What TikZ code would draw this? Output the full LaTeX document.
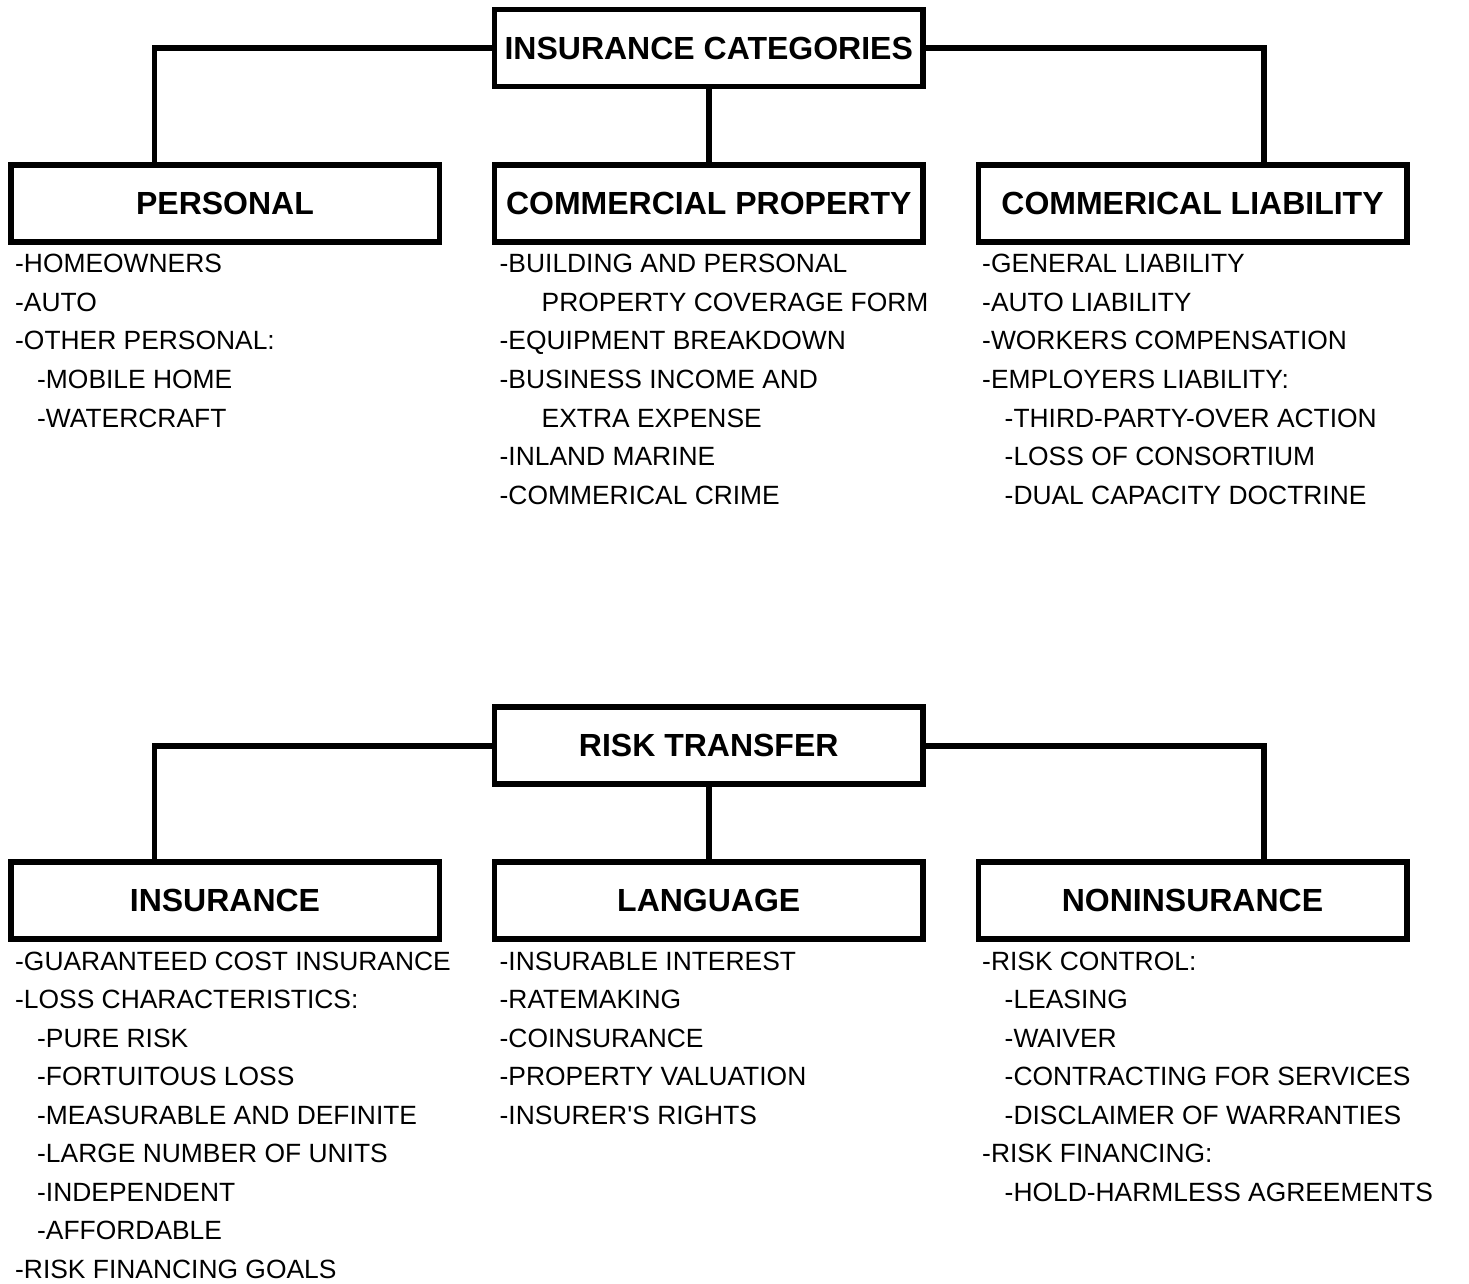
\documentclass[tikz,border=0pt]{standalone}
\usepackage{fontspec}
\newfontfamily\lsans{Liberation Sans}
\tikzset{
  box/.style={draw, line width=5.5pt, minimum width=428.5pt, minimum height=77pt,
    inner sep=0pt, font=\lsans\fontsize{32}{38}\selectfont\bfseries},
  link/.style={line width=5.5pt},
  entry/.style={anchor=base west, inner sep=0pt, font=\lsans\fontsize{26.4}{32}\selectfont}
}
\begin{document}
\begin{tikzpicture}[x=1pt,y=-1pt]
\useasboundingbox (0,0) rectangle (1469,1283);

% ---------- insurance categories ----------
\node[box] (cat)   at (708.75,48.1)  {INSURANCE CATEGORIES};
\node[box] (pers)  at (225,203.25)   {PERSONAL};
\node[box] (cprop) at (708.75,203.25){COMMERCIAL PROPERTY};
\node[box] (cliab) at (1192.5,203.25){COMMERICAL LIABILITY};

\draw[link] (cat.west) -| ([xshift=-70.5pt]pers.north);
\draw[link] (cat.east) -| ([xshift=71.5pt]cliab.north);
\draw[link] (cat.south) -- (cprop.north);

% personal lines
\node[entry] (p1) at (15,272.3)  {-HOMEOWNERS};
\node[entry] (p2) at (15,311.0)  {-AUTO};
\node[entry] (p3) at (15,349.7)  {-OTHER PERSONAL:};
\node[entry] (p4) at (37,388.4)  {-MOBILE HOME};
\node[entry] (p5) at (37,427.1)  {-WATERCRAFT};

% commercial property forms
\node[entry] (c1) at (499.5,272.3) {-BUILDING AND PERSONAL};
\node[entry] (c2) at (541.5,311.0) {PROPERTY COVERAGE FORM};
\node[entry] (c3) at (499.5,349.7) {-EQUIPMENT BREAKDOWN};
\node[entry] (c4) at (499.5,388.4) {-BUSINESS INCOME AND};
\node[entry] (c5) at (541.5,427.1) {EXTRA EXPENSE};
\node[entry] (c6) at (499.5,465.8) {-INLAND MARINE};
\node[entry] (c7) at (499.5,504.5) {-COMMERICAL CRIME};

% commercial liability forms
\node[entry] (l1) at (982,272.3)    {-GENERAL LIABILITY};
\node[entry] (l2) at (982,311.0)    {-AUTO LIABILITY};
\node[entry] (l3) at (982,349.7)    {-WORKERS COMPENSATION};
\node[entry] (l4) at (982,388.4)    {-EMPLOYERS LIABILITY:};
\node[entry] (l5) at (1004.5,427.1) {-THIRD-PARTY-OVER ACTION};
\node[entry] (l6) at (1004.5,465.8) {-LOSS OF CONSORTIUM};
\node[entry] (l7) at (1004.5,504.5) {-DUAL CAPACITY DOCTRINE};

% ---------- risk transfer ----------
\node[box] (rt)     at (708.75,745.35) {RISK TRANSFER};
\node[box] (ins)    at (225,900.5)     {INSURANCE};
\node[box] (lang)   at (708.75,900.5)  {LANGUAGE};
\node[box] (nonins) at (1192.5,900.5)  {NONINSURANCE};

\draw[link] ([yshift=-0.7pt]rt.west) -| ([xshift=-70.5pt]ins.north);
\draw[link] ([yshift=-0.7pt]rt.east) -| ([xshift=71.5pt]nonins.north);
\draw[link] (rt.south) -- (lang.north);

% insurance
\node[entry] (i1) at (15,970)     {-GUARANTEED COST INSURANCE};
\node[entry] (i2) at (15,1008.55) {-LOSS CHARACTERISTICS:};
\node[entry] (i3) at (37,1047.1)  {-PURE RISK};
\node[entry] (i4) at (37,1085.65) {-FORTUITOUS LOSS};
\node[entry] (i5) at (37,1124.2)  {-MEASURABLE AND DEFINITE};
\node[entry] (i6) at (37,1162.75) {-LARGE NUMBER OF UNITS};
\node[entry] (i7) at (37,1201.3)  {-INDEPENDENT};
\node[entry] (i8) at (37,1239.85) {-AFFORDABLE};
\node[entry] (i9) at (15,1278.4)  {-RISK FINANCING GOALS};

% language
\node[entry] (g1) at (499.5,970)     {-INSURABLE INTEREST};
\node[entry] (g2) at (499.5,1008.55) {-RATEMAKING};
\node[entry] (g3) at (499.5,1047.1)  {-COINSURANCE};
\node[entry] (g4) at (499.5,1085.65) {-PROPERTY VALUATION};
\node[entry] (g5) at (499.5,1124.2)  {-INSURER'S RIGHTS};

% noninsurance
\node[entry] (n1) at (982,970)       {-RISK CONTROL:};
\node[entry] (n2) at (1004.5,1008.55){-LEASING};
\node[entry] (n3) at (1004.5,1047.1) {-WAIVER};
\node[entry] (n4) at (1004.5,1085.65){-CONTRACTING FOR SERVICES};
\node[entry] (n5) at (1004.5,1124.2) {-DISCLAIMER OF WARRANTIES};
\node[entry] (n6) at (982,1162.75)   {-RISK FINANCING:};
\node[entry] (n7) at (1004.5,1201.3) {-HOLD-HARMLESS AGREEMENTS};
\end{tikzpicture}
\end{document}
